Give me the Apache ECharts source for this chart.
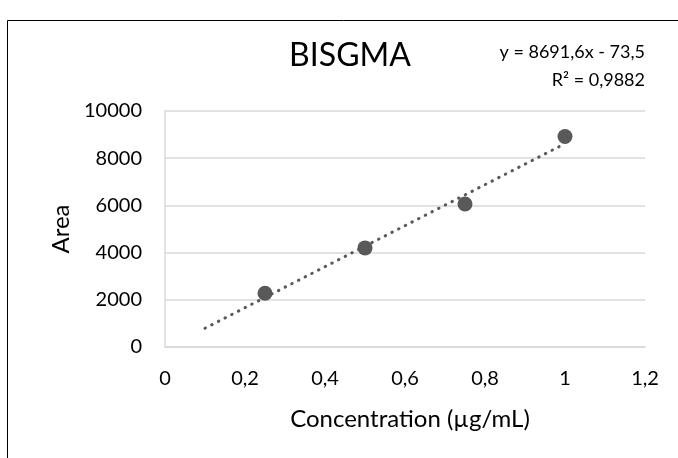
<!DOCTYPE html>
<html>
<head>
<meta charset="utf-8">
<script src="https://cdn.jsdelivr.net/npm/echarts@6/dist/echarts.min.js"></script>
<style>
  html, body { margin: 0; padding: 0; background: #fff; }
  #chart { width: 678px; height: 458px; }
</style>
</head>
<body>
<div id="chart"></div>
<script>
// measured points (concentration, area)
var concentration = [0.25, 0.5, 0.75, 1];
var area = [2280, 4200, 6060, 8920];

// trendline endpoints as drawn in the picture
var trendX = [0.1, 1];
var trendY = [796, 8618];

var equationText = 'y = 8691,6x - 73,5';
var r2Text = 'R² = 0,9882';

var font = 'Lato, "Open Sans", sans-serif';

function comma(v) {
  return String(+v.toFixed(1)).replace('.', ',');
}

var dom = document.getElementById('chart');
var myChart = echarts.init(dom, null, { renderer: 'canvas' });

var option = {
  animation: false,
  title: {
    text: 'BISGMA',
    left: 345,
    textAlign: 'center',
    top: 35,
    textStyle: { fontFamily: font, fontSize: 32, fontWeight: 'normal', color: '#000' }
  },
  grid: { left: 165, right: 33, top: 111, bottom: 111 },
  xAxis: {
    type: 'value',
    min: 0,
    max: 1.2,
    interval: 0.2,
    name: 'Concentration (µg/mL)',
    nameLocation: 'middle',
    nameGap: 60,
    nameTextStyle: { fontFamily: font, fontSize: 24, color: '#000', padding: [0, 0, 0, 10] },
    axisLine: { show: true, lineStyle: { color: '#d9d9d9', width: 1.5 } },
    axisTick: { show: false },
    splitLine: { show: false },
    axisLabel: {
      margin: 22,
      fontFamily: font,
      fontSize: 20,
      color: '#000',
      formatter: comma
    }
  },
  yAxis: {
    type: 'value',
    min: 0,
    max: 10000,
    interval: 2000,
    name: 'Area',
    nameLocation: 'middle',
    nameGap: 90,
    nameTextStyle: { fontFamily: font, fontSize: 24, color: '#000' },
    axisLine: { show: true, lineStyle: { color: '#d9d9d9', width: 1.5 } },
    axisTick: { show: false },
    splitLine: { show: true, lineStyle: { color: '#d9d9d9', width: 1.5 } },
    axisLabel: {
      margin: 23,
      fontFamily: font,
      fontSize: 20,
      color: '#000',
      formatter: function (v) { return String(v); }
    }
  },
  series: [
    {
      type: 'line',
      data: trendX.map(function (x, i) { return [x, trendY[i]]; }),
      showSymbol: false,
      symbol: 'none',
      lineStyle: { color: '#595959', width: 3, type: [0.5, 7], cap: 'round' },
      z: 2
    },
    {
      type: 'scatter',
      data: concentration.map(function (x, i) { return [x, area[i]]; }),
      symbolSize: 15,
      itemStyle: { color: '#595959', opacity: 1 },
      z: 3
    }
  ],
  graphic: [
    {
      type: 'rect',
      shape: { x: 7.5, y: 20.5, width: 700, height: 500 },
      style: { fill: 'none', stroke: '#000', lineWidth: 1 },
      silent: true
    },
    {
      type: 'text',
      x: 645,
      y: 52,
      style: { text: equationText, textAlign: 'right', textVerticalAlign: 'middle', fontFamily: font, fontSize: 18, fill: '#000' }
    },
    {
      type: 'text',
      x: 645,
      y: 80,
      style: { text: r2Text, textAlign: 'right', textVerticalAlign: 'middle', fontFamily: font, fontSize: 18, fill: '#000' }
    }
  ]
};

myChart.setOption(option);
window.addEventListener('resize', myChart.resize);
</script>
</body>
</html>
